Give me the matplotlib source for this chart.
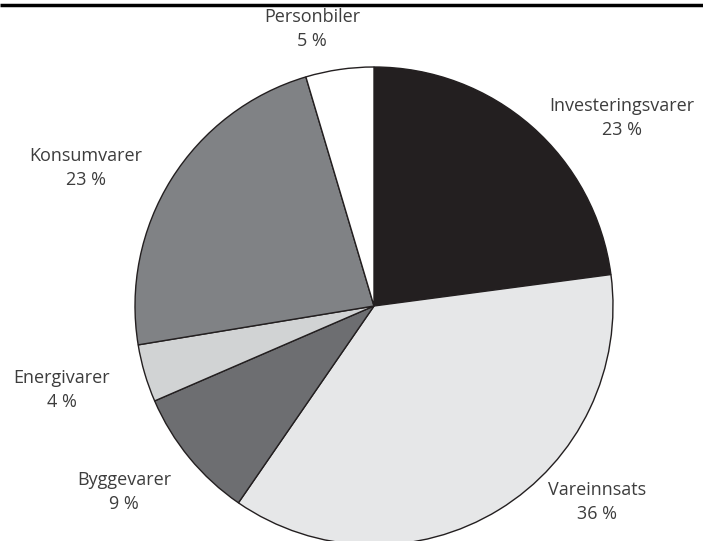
import matplotlib
matplotlib.use("Agg")
import matplotlib.pyplot as plt

# data (clockwise from 12 o'clock)
categories = ["Investeringsvarer", "Vareinnsats", "Byggevarer", "Energivarer", "Konsumvarer", "Personbiler"]
shares = [22.9, 36.7, 8.9, 3.9, 23.0, 4.6]      # slice sizes as drawn
pct_labels = [23, 36, 9, 4, 23, 5]               # printed percentages
colors = ["#231f20", "#e6e7e8", "#6d6e71", "#d1d3d4", "#808285", "#ffffff"]

# label anchor positions in pixels (x, y from top)
label_pos = [(622, 118), (597, 502), (124, 492), (62, 390), (86, 168), (312, 29)]

W, H = 703, 541
fig = plt.figure(figsize=(W / 100, H / 100), dpi=100)
ax = fig.add_axes([0, 0, 1, 1])

ax.pie(shares, colors=colors, startangle=90, counterclock=False,
       center=(374, H - 306), radius=239, frame=True,
       wedgeprops=dict(edgecolor="#231f20", linewidth=1.0))

for name, val, (x, y) in zip(categories, pct_labels, label_pos):
    ax.text(x, H - y, f"{name}\n{val} %", ha="center", va="center",
            fontsize=13, family="Open Sans", color="#3d3d3d", linespacing=1.4)

# top rule
ax.plot([0, W], [H - 5, H - 5], color="black", lw=2.5, solid_capstyle="butt")

ax.set_xlim(0, W)
ax.set_ylim(0, H)
ax.set_aspect("equal")
ax.axis("off")

fig.savefig("out.png", dpi=100)
